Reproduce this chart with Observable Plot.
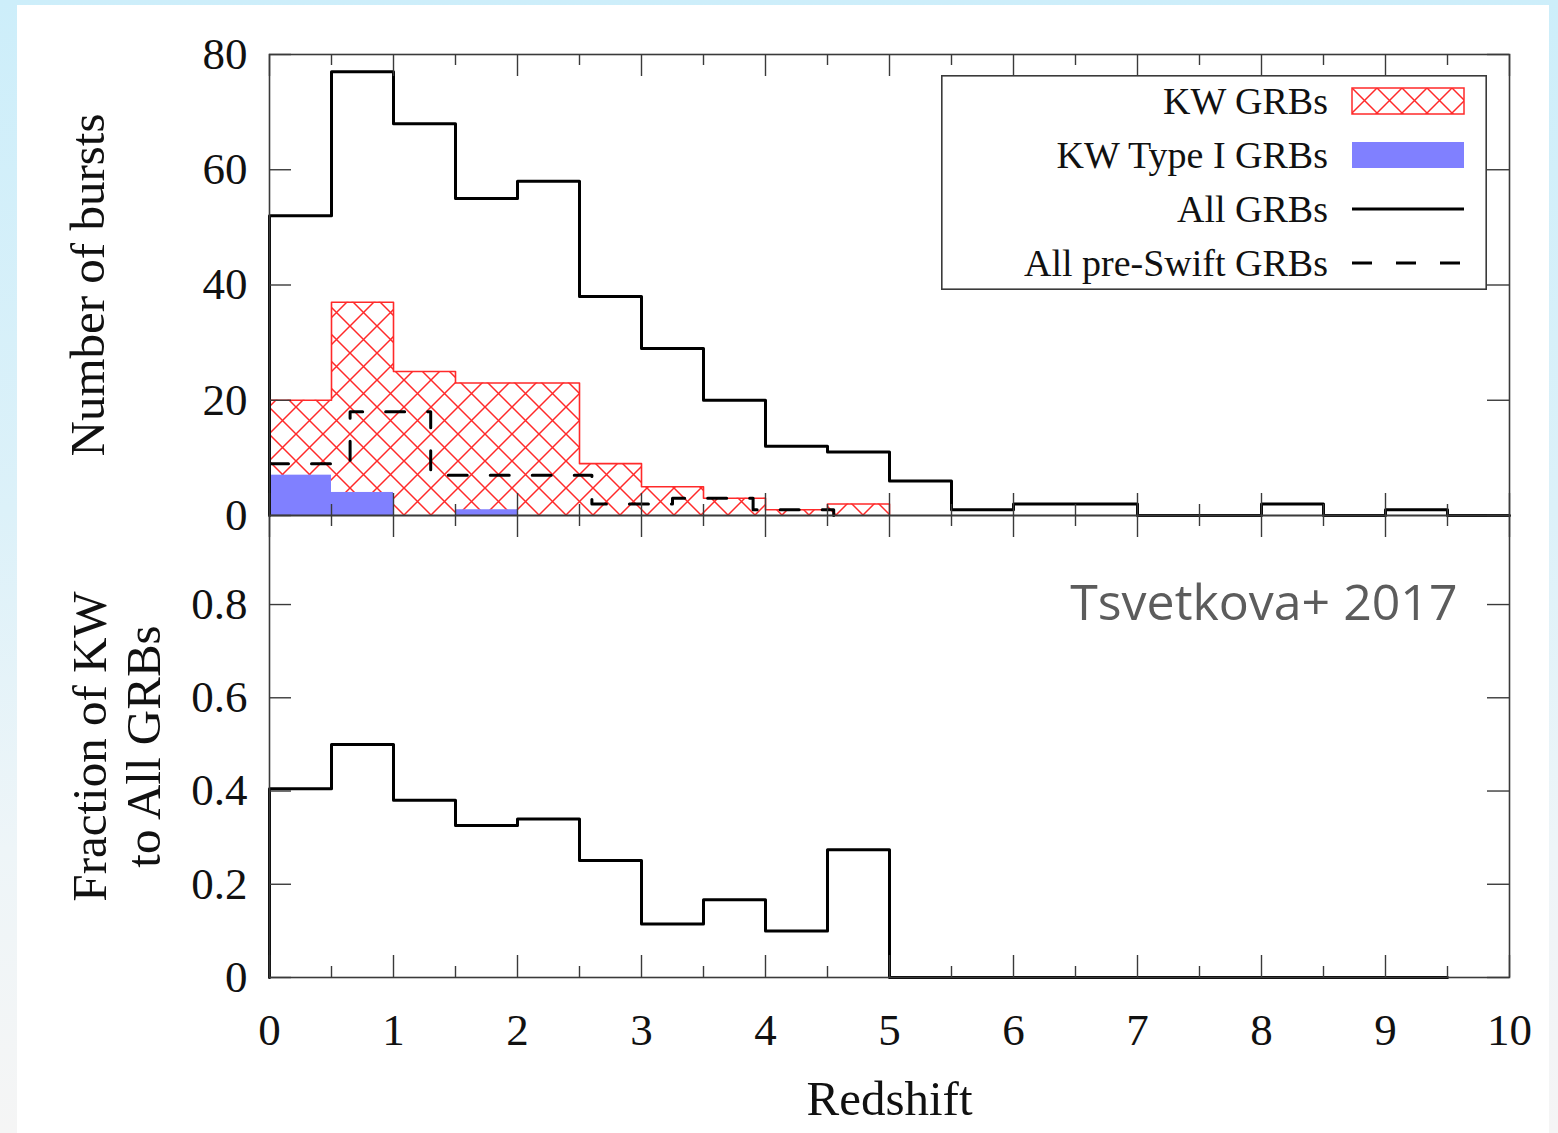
<!DOCTYPE html>
<html>
<head>
<meta charset="utf-8">
<script src="https://cdn.jsdelivr.net/npm/d3@7"></script>
<script src="https://cdn.jsdelivr.net/npm/@observablehq/plot@0.6"></script>
<style>
  html, body { margin: 0; padding: 0; }
  body {
    width: 1558px; height: 1133px; overflow: hidden; position: relative;
    background: linear-gradient(180deg, #cdeefa 0%, #dcf1f9 45%, #eef5f8 75%, #f5f5f5 100%);
  }
  #card { position: absolute; left: 17px; top: 5px; width: 1532px; height: 1128px; background: #fff; }
  #chart { position: absolute; left: 0; top: 0; width: 1558px; height: 1133px; }
  #chart svg { position: absolute; left: 0; top: 0; }
  #legend { position: absolute; left: 941px; top: 75px; }
</style>
</head>
<body>
<div id="card"></div>
<div id="chart"></div>
<script>
// ---------------- data ----------------
const binEdges = [0, 0.5, 1, 1.5, 2, 2.5, 3, 3.5, 4, 4.5, 5, 5.5, 6, 6.5, 7, 7.5, 8, 8.5, 9, 9.5, 10];
const allGRBs  = [52, 77, 68, 55, 58, 38, 29, 20, 12, 11, 6, 1, 2, 2, 0, 0, 2, 0, 1, 0];
const kwGRBs   = [20, 37, 25, 23, 23, 9, 5, 3, 1, 2];
const kwTypeI  = [7, 4, 0, 1];
const preSwiftEdges = [0, 0.65, 1.3, 1.95, 2.6, 3.25, 3.9, 4.55];
const preSwift      = [9, 18, 7, 7, 2, 3, 1];
const kwFraction = [0.405, 0.50, 0.38, 0.326, 0.34, 0.251, 0.115, 0.167, 0.10, 0.274,
                    0, 0, 0, 0, 0, 0, 0, 0, 0];
const xMajorTicks = [0, 1, 2, 3, 4, 5, 6, 7, 8, 9, 10];
const xMinorTicks = [0.5, 1.5, 2.5, 3.5, 4.5, 5.5, 6.5, 7.5, 8.5, 9.5];
const countTicks = [0, 20, 40, 60, 80];
const fracTicks  = [0, 0.2, 0.4, 0.6, 0.8];
const legendItems = [
  {label: "KW GRBs", kind: "hatch"},
  {label: "KW Type I GRBs", kind: "fill"},
  {label: "All GRBs", kind: "solid"},
  {label: "All pre-Swift GRBs", kind: "dashed"}
];
const xLabel = "Redshift";
const yLabelTop = "Number of bursts";
const yLabelBottom = "Fraction of KW\nto All GRBs";
const credit = "Tsvetkova+ 2017";

// ---------------- layout / style ----------------
const W = 1558, H = 1133;
const ML = 269, MR = W - 1509;
const FW = 1509 - 269;
const topT = 54, topB = 515, botB = 977;
const serif = "'Liberation Serif', 'DejaVu Serif', serif";
const ink = "#111";
const frameCol = "#3a3a3a";
const hatchRed = "#ff2a2a";
const typeIBlue = "#8080ff";

function stepPoints(edges, values, fromZero = true) {
  const pts = [];
  if (fromZero) pts.push({x: edges[0], y: 0});
  values.forEach((v, i) => pts.push({x: edges[i], y: v}));
  pts.push({x: edges[values.length], y: 0});
  return pts;
}

const allPts = stepPoints(binEdges, allGRBs);
const kwPts = stepPoints(binEdges.slice(0, kwGRBs.length + 1), kwGRBs);
const prePts = stepPoints(preSwiftEdges, preSwift, false);
const fracPts = stepPoints(binEdges.slice(0, kwFraction.length + 1), kwFraction);
const typeIBins = kwTypeI.map((v, i) => ({x1: binEdges[i], x2: binEdges[i + 1], y: v})).filter(d => d.y > 0);

function frameTicks(hFrame, yTicks) {
  const s = {stroke: frameCol, strokeWidth: 1.4};
  return [
    Plot.tickY(yTicks, {y: d => d, insetRight: FW - 22, ...s}),
    Plot.tickY(yTicks, {y: d => d, insetLeft: FW - 22, ...s}),
    Plot.tickX(xMajorTicks, {x: d => d, insetTop: hFrame - 22, ...s}),
    Plot.tickX(xMinorTicks, {x: d => d, insetTop: hFrame - 11, ...s}),
    Plot.tickX(xMajorTicks, {x: d => d, insetBottom: hFrame - 22, ...s}),
    Plot.tickX(xMinorTicks, {x: d => d, insetBottom: hFrame - 11, ...s}),
    Plot.frame({stroke: frameCol, strokeWidth: 1.6})
  ];
}

const baseStyle = {background: "none", overflow: "visible", fontFamily: serif, fontSize: "45px", color: ink};

const topPlot = Plot.plot({
  width: W, height: H,
  marginLeft: ML, marginRight: MR, marginTop: topT, marginBottom: H - topB,
  x: {domain: [0, 10], axis: null},
  y: {domain: [0, 80], axis: null},
  style: baseStyle,
  marks: [
    Plot.areaY(kwPts, {x: "x", y: "y", curve: "step-after", fill: "url(#kwHatch)"}),
    Plot.line(kwPts, {x: "x", y: "y", curve: "step-after", stroke: hatchRed, strokeWidth: 1.6}),
    Plot.rectY(typeIBins, {x1: "x1", x2: "x2", y: "y", fill: typeIBlue}),
    Plot.line(prePts, {x: "x", y: "y", curve: "step-after", stroke: "#000", strokeWidth: 3, strokeDasharray: "19,23"}),
    Plot.line(allPts, {x: "x", y: "y", curve: "step-after", stroke: "#000", strokeWidth: 3}),
    ...frameTicks(topB - topT, countTicks),
    Plot.axisY({ticks: countTicks, tickSize: 0, tickPadding: 22, label: null, fontSize: 45, fill: ink}),
    Plot.text([yLabelTop], {text: d => d, frameAnchor: "left", rotate: -90, dx: -181, fontSize: 49, fill: ink, lineAnchor: "middle", textAnchor: "middle"})
  ]
});

// hatch pattern definition
{
  const defs = d3.select(topPlot).insert("defs", ":first-child");
  const p = defs.append("pattern").attr("id", "kwHatch").attr("patternUnits", "userSpaceOnUse")
    .attr("width", 27).attr("height", 27).attr("x", ML).attr("y", topB);
  p.append("path").attr("d", "M0,0L27,27M27,0L0,27").attr("stroke", hatchRed).attr("stroke-width", 1.5).attr("fill", "none");
}

const bottomPlot = Plot.plot({
  width: W, height: H,
  marginLeft: ML, marginRight: MR, marginTop: topB, marginBottom: H - botB,
  x: {domain: [0, 10], axis: null},
  y: {domain: [0, 0.991], axis: null},
  style: baseStyle,
  marks: [
    Plot.line(fracPts, {x: "x", y: "y", curve: "step-after", stroke: "#000", strokeWidth: 3}),
    ...frameTicks(botB - topB, fracTicks),
    Plot.axisY({ticks: fracTicks, tickSize: 0, tickPadding: 22, label: null, fontSize: 45, fill: ink, tickFormat: d => d === 0 ? "0" : d.toFixed(1)}),
    Plot.axisX({ticks: xMajorTicks, tickSize: 0, tickPadding: 36, label: null, fontSize: 45, fill: ink, tickFormat: d => String(d)}),
    Plot.text([xLabel], {text: d => d, frameAnchor: "bottom", dy: 122, fontSize: 49, fill: ink, lineAnchor: "middle"}),
    Plot.text([yLabelBottom], {text: d => d, frameAnchor: "left", rotate: -90, dx: -154, fontSize: 49, lineHeight: 1.1, fill: ink, lineAnchor: "middle", textAnchor: "middle"}),
    Plot.text([credit], {text: d => d, frameAnchor: "top-right", dx: -52, dy: 88, fontSize: 50, fill: "#5c5c5c", fontFamily: "'Open Sans', Lato, sans-serif", textAnchor: "end", lineAnchor: "middle"})
  ]
});

const chart = document.getElementById("chart");
chart.appendChild(topPlot);
chart.appendChild(bottomPlot);

// ---------------- legend (inside the top panel) ----------------
{
  const lw = 546, lh = 215, textX = 387, swX = 411, swW = 112, rowY0 = 26, rowStep = 54;
  const svg = d3.select(chart).append("svg").attr("id", "legend").attr("width", lw).attr("height", lh)
    .style("position", "absolute").style("left", "941px").style("top", "75px").style("overflow", "visible");
  const defs = svg.append("defs");
  const p = defs.append("pattern").attr("id", "kwHatchLegend").attr("patternUnits", "userSpaceOnUse")
    .attr("width", 25).attr("height", 25).attr("x", swX).attr("y", 13);
  p.append("path").attr("d", "M0,0L25,25M25,0L0,25").attr("stroke", hatchRed).attr("stroke-width", 1.5).attr("fill", "none");
  svg.append("rect").attr("x", 0.8).attr("y", 0.8).attr("width", lw - 1.6).attr("height", lh - 1.6)
    .attr("fill", "#fff").attr("stroke", frameCol).attr("stroke-width", 1.6);
  legendItems.forEach((it, i) => {
    const cy = rowY0 + i * rowStep;
    svg.append("text").attr("x", textX).attr("y", cy).attr("dy", "0.34em").attr("text-anchor", "end")
      .attr("font-family", serif).attr("font-size", 38).attr("fill", ink).text(it.label);
    if (it.kind === "hatch") {
      svg.append("rect").attr("x", swX).attr("y", cy - 13).attr("width", swW).attr("height", 26)
        .attr("fill", "url(#kwHatchLegend)").attr("stroke", hatchRed).attr("stroke-width", 1.5);
    } else if (it.kind === "fill") {
      svg.append("rect").attr("x", swX).attr("y", cy - 13).attr("width", swW).attr("height", 26).attr("fill", typeIBlue);
    } else {
      svg.append("line").attr("x1", swX).attr("x2", swX + swW).attr("y1", cy).attr("y2", cy)
        .attr("stroke", "#000").attr("stroke-width", 3)
        .attr("stroke-dasharray", it.kind === "dashed" ? "20,24" : null);
    }
  });
}
</script>
</body>
</html>
